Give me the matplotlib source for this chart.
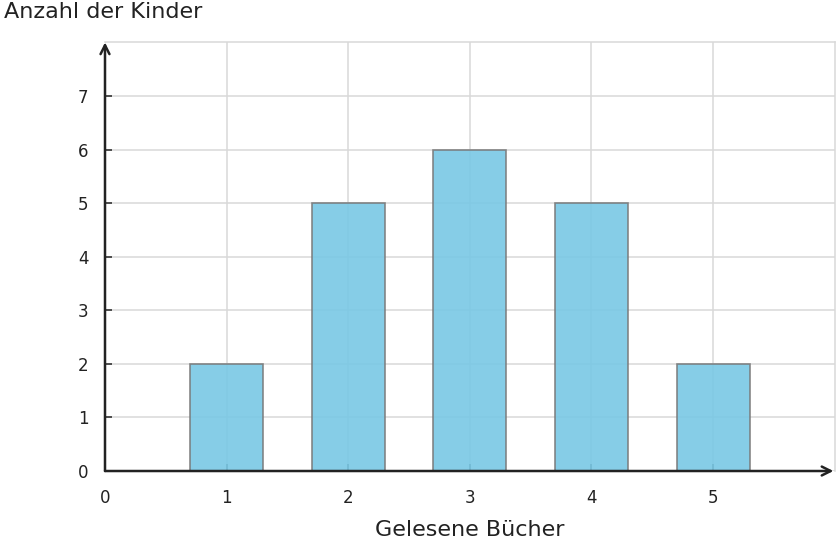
import matplotlib
matplotlib.use('Agg')
import matplotlib.pyplot as plt

books = [1, 2, 3, 4, 5]
children = [2, 5, 6, 5, 2]
x_ticks = [0, 1, 2, 3, 4, 5]
y_ticks = [0, 1, 2, 3, 4, 5, 6, 7]

plt.rcParams['font.family'] = 'DejaVu Sans'

fig = plt.figure(figsize=(8.38, 5.48), dpi=100)
ax = fig.add_axes([0.1253, 0.1405, 0.996 - 0.1253, 0.9226 - 0.1405])

ax.set_axisbelow(True)
ax.grid(True, color='#d8d8d8', linewidth=1.1)
ax.bar(books, children, width=0.6, color='#79c8e5', alpha=0.9,
       edgecolor='#7a7a7a', linewidth=1.2, zorder=3)

ax.set_xlim(0, 6)
ax.set_ylim(0, 8)
ax.set_xticks(x_ticks)
ax.set_yticks(y_ticks)
ax.tick_params(axis='both', direction='in', length=5, width=1.2,
               color='#333333', labelsize=12, labelcolor='#222222')
ax.tick_params(axis='x', pad=13)
ax.tick_params(axis='y', pad=12)

for s in ['left', 'bottom']:
    ax.spines[s].set_visible(False)
for s in ['top', 'right']:
    ax.spines[s].set_color('#d8d8d8')
    ax.spines[s].set_linewidth(1.1)

# axis arrows
arrow = dict(arrowstyle='->', color='#222222', lw=1.8, mutation_scale=16,
             shrinkA=0, shrinkB=0)
ax.annotate('', xy=(5.99, 0), xytext=(0, 0), xycoords='data',
            arrowprops=arrow, annotation_clip=False, zorder=5)
ax.annotate('', xy=(0, 8.0), xytext=(0, 0), xycoords='data',
            arrowprops=arrow, annotation_clip=False, zorder=5)

fig.text(0.005, 0.978, 'Anzahl der Kinder', fontsize=16, color='#222222',
         ha='left', va='center')
fig.text(0.561, 0.032, 'Gelesene Bücher', fontsize=16, color='#222222',
         ha='center', va='center')

fig.savefig('out.png', dpi=100)
